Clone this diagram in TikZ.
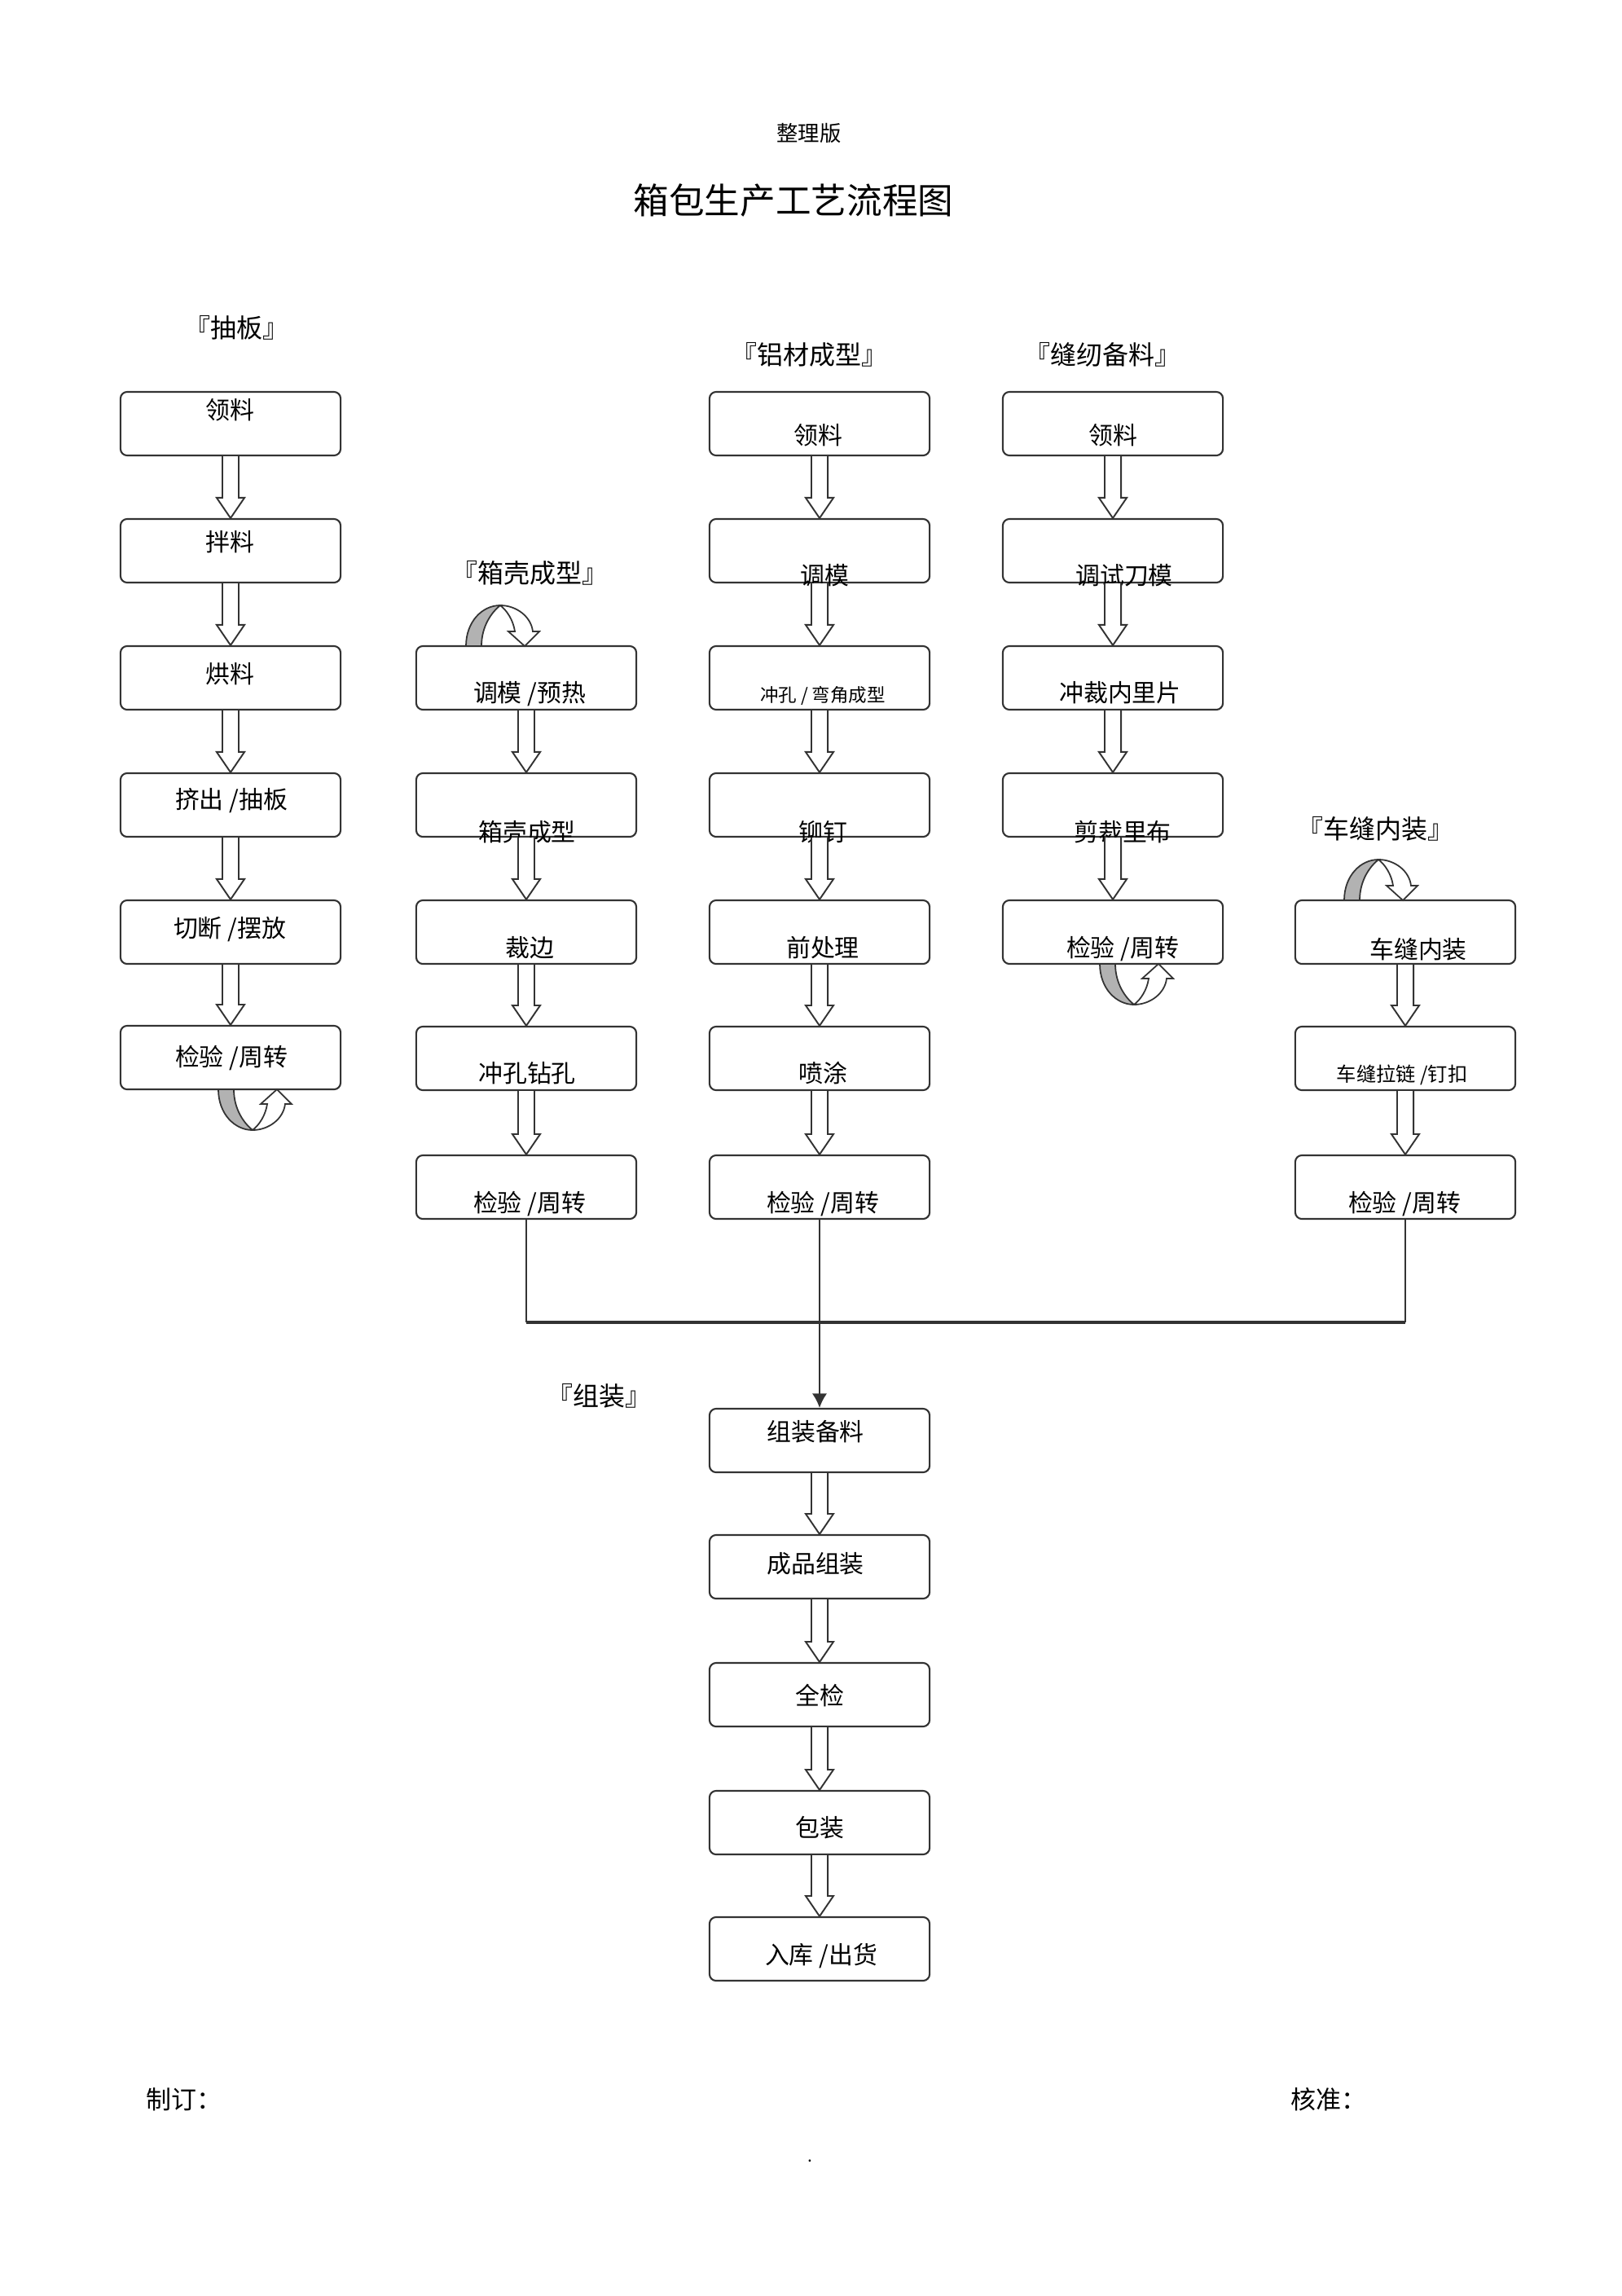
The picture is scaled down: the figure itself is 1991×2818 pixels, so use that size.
\documentclass[tikz,border=0pt]{standalone}
\usepackage{fontspec}
\setmainfont{Noto Sans CJK SC}
\usetikzlibrary{calc,arrows.meta}
\tikzset{
 box/.style={draw=black!80, line width=0.6pt, rounded corners=2.3pt, minimum width=2.7cm, minimum height=0.78cm, fill=white, inner sep=0pt},
 txt/.style={inner sep=0pt, font=\fontsize{8.5pt}{10pt}\selectfont},
 smalltxt/.style={inner sep=0pt, font=\fontsize{6.4pt}{8pt}\selectfont},
 midtxt/.style={inner sep=0pt, font=\fontsize{6.9pt}{8pt}\selectfont},
 sec/.style={inner sep=0pt, font=\fontsize{9.1pt}{11pt}\selectfont},
 harrow/.style={draw=black!80, line width=0.55pt, fill=white, line join=miter},
 link/.style={draw=black!80, line width=0.5pt},
 uturnline/.style={draw=black!80, line width=0.5pt},
}
\newcommand\hollowarrow[2]{\path[harrow] let \p1=(#1.south), \p2=(#2.north) in
 (\x1-2.85pt,\y1) -- (\x1-2.85pt,\y2+7.1pt) -- (\x1-4.85pt,\y2+7.1pt) -- (\x1,\y2)
 -- (\x1+4.85pt,\y2+7.1pt) -- (\x1+2.85pt,\y2+7.1pt) -- (\x1+2.85pt,\y1);}
\newcommand\uturn[3]{\begin{scope}[shift={(#1,#2)}, yscale=#3]
 \filldraw[uturnline, fill=black!30] (0,0) .. controls (0,30) and (20,50) .. (42,50) .. controls (32,42) and (19,25) .. (19,0) -- cycle;
 \filldraw[uturnline, fill=white] (42,50) .. controls (62,50) and (80,36) .. (82,18) -- (90,18) -- (72,0) -- (52,18) -- (60,18) .. controls (58,32) and (50,44) .. (42,50) -- cycle;
\end{scope}}
\begin{document}
\begin{tikzpicture}[x=0.01cm, y=-0.01cm]
\useasboundingbox (0,0) rectangle (1991,2818);

% header
\node[inner sep=0pt, font=\fontsize{7.5pt}{9pt}\selectfont] (hdr) at (993,164) {整理版};
\node[inner sep=0pt, font=\fontsize{12.4pt}{14pt}\selectfont] (title) at (974,246) {箱包生产工艺流程图};

% section labels
\node[sec] (s1) at (290,402) {『抽板』};
\node[sec] (s3) at (993,435) {『铝材成型』};
\node[sec] (s4) at (1353,435) {『缝纫备料』};
\node[sec] (s2) at (650,703) {『箱壳成型』};
\node[sec] (s5) at (1688,1017) {『车缝内装』};
\node[sec] (s6) at (735,1713) {『组装』};

% column 1
\node[box] (b11) at (283,520) {};
\node[box] (b12) at (283,676) {};
\node[box] (b13) at (283,832) {};
\node[box] (b14) at (283,988) {};
\node[box] (b15) at (283,1144) {};
\node[box] (b16) at (283,1298) {};
\node[txt] (t11) at (282,503) {领料};
\node[txt] (t12) at (282,665) {拌料};
\node[txt] (t13) at (282,827) {烘料};
\node[txt] (t14) at (284,983) {挤出 /抽板};
\node[txt] (t15) at (282,1141) {切断 /摆放};
\node[txt] (t16) at (284,1299) {检验 /周转};

% column 2
\node[box] (b21) at (646,832) {};
\node[box] (b22) at (646,988) {};
\node[box] (b23) at (646,1144) {};
\node[box] (b24) at (646,1299) {};
\node[box] (b25) at (646,1457) {};
\node[txt] (t21) at (650,852) {调模 /预热};
\node[txt] (t22) at (647,1021) {箱壳成型};
\node[txt] (t23) at (650,1163) {裁边};
\node[txt] (t24) at (647,1317) {冲孔钻孔};
\node[txt] (t25) at (650,1477) {检验 /周转};

% column 3
\node[box] (b31) at (1006,520) {};
\node[box] (b32) at (1006,676) {};
\node[box] (b33) at (1006,832) {};
\node[box] (b34) at (1006,988) {};
\node[box] (b35) at (1006,1144) {};
\node[box] (b36) at (1006,1299) {};
\node[box] (b37) at (1006,1457) {};
\node[txt] (t31) at (1004,534) {领料};
\node[txt] (t32) at (1012,706) {调模};
\node[smalltxt] (t33) at (1010,854) {冲孔 / 弯角成型};
\node[txt] (t34) at (1010,1021) {铆钉};
\node[txt] (t35) at (1010,1163) {前处理};
\node[txt] (t36) at (1010,1317) {喷涂};
\node[txt] (t37) at (1010,1477) {检验 /周转};

% column 4
\node[box] (b41) at (1366,520) {};
\node[box] (b42) at (1366,676) {};
\node[box] (b43) at (1366,832) {};
\node[box] (b44) at (1366,988) {};
\node[box] (b45) at (1366,1144) {};
\node[txt] (t41) at (1366,534) {领料};
\node[txt] (t42) at (1380,706) {调试刀模};
\node[txt] (t43) at (1375,850) {冲裁内里片};
\node[txt] (t44) at (1378,1021) {剪裁里布};
\node[txt] (t45) at (1378,1165) {检验 /周转};

% column 5
\node[box] (b51) at (1725,1144) {};
\node[box] (b52) at (1725,1299) {};
\node[box] (b53) at (1725,1457) {};
\node[txt] (t51) at (1741,1165) {车缝内装};
\node[midtxt] (t52) at (1721,1319) {车缝拉链 /钉扣};
\node[txt] (t53) at (1724,1477) {检验 /周转};

% assembly
\node[box] (a1) at (1006,1768) {};
\node[box] (a2) at (1006,1923) {};
\node[box] (a3) at (1006,2080) {};
\node[box] (a4) at (1006,2237) {};
\node[box] (a5) at (1006,2392) {};
\node[txt] (ta1) at (1001,1757) {组装备料};
\node[txt] (ta2) at (1001,1919) {成品组装};
\node[txt] (ta3) at (1006,2081) {全检};
\node[txt] (ta4) at (1006,2243) {包装};
\node[txt] (ta5) at (1008,2401) {入库 /出货};

% hollow arrows
\hollowarrow{b11}{b12}
\hollowarrow{b12}{b13}
\hollowarrow{b13}{b14}
\hollowarrow{b14}{b15}
\hollowarrow{b15}{b16}
\hollowarrow{b21}{b22}
\hollowarrow{b22}{b23}
\hollowarrow{b23}{b24}
\hollowarrow{b24}{b25}
\hollowarrow{b31}{b32}
\hollowarrow{b32}{b33}
\hollowarrow{b33}{b34}
\hollowarrow{b34}{b35}
\hollowarrow{b35}{b36}
\hollowarrow{b36}{b37}
\hollowarrow{b41}{b42}
\hollowarrow{b42}{b43}
\hollowarrow{b43}{b44}
\hollowarrow{b44}{b45}
\hollowarrow{b51}{b52}
\hollowarrow{b52}{b53}
\hollowarrow{a1}{a2}
\hollowarrow{a2}{a3}
\hollowarrow{a3}{a4}
\hollowarrow{a4}{a5}

% U-turn arrows
\uturn{268}{1337}{1}
\uturn{1350}{1183}{1}
\uturn{572}{793}{-1}
\uturn{1650}{1105}{-1}

% merge lines
\coordinate (jl) at (646,1623);
\coordinate (jr) at (1725,1623);
\draw[link] (b25.south) -- (jl);
\draw[link] (b53.south) -- (jr);
\draw[link, line width=1pt] (jl) -- (jr);
\draw[link, line width=0.6pt, -{Latex[length=5pt,width=5.2pt]}] (b37.south) -- (a1.north);

% footer
\node[inner sep=0pt, font=\fontsize{8.8pt}{10pt}\selectfont] (f1) at (226,2577) {制订：};
\node[inner sep=0pt, font=\fontsize{8.8pt}{10pt}\selectfont] (f2) at (1631,2577) {核准：};
\node[inner sep=0pt, font=\fontsize{6pt}{7pt}\selectfont] (dot) at (994,2652) {.};
\end{tikzpicture}
\end{document}
